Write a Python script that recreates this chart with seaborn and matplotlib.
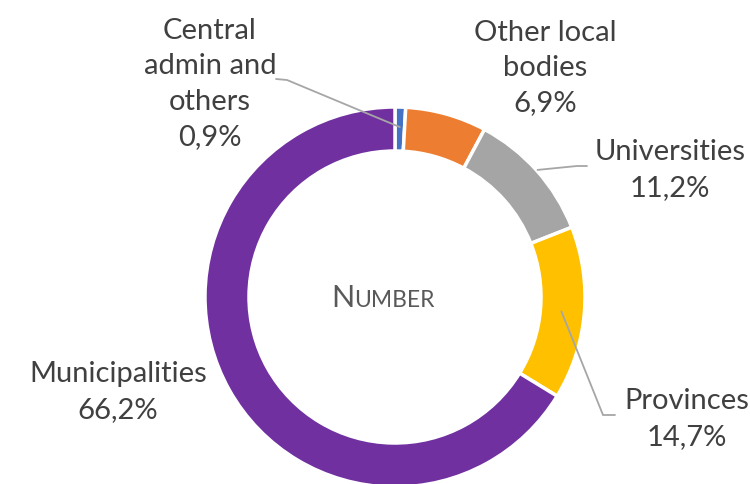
import numpy as np
import matplotlib
matplotlib.use("Agg")
import matplotlib.pyplot as plt
import seaborn as sns

# ---- data ----
categories = ["Central\nadmin and\nothers", "Other local\nbodies", "Universities", "Provinces", "Municipalities"]
shares = [0.9, 6.9, 11.2, 14.7, 66.2]
colors = ["#4472C4", "#ED7D31", "#A5A5A5", "#FFC000", "#7030A0"]
center_title = ("N", "UMBER")

sns.set_theme(style="white")
plt.rcParams['font.family'] = ['Lato', 'DejaVu Sans']

W, H = 750, 485
fig = plt.figure(figsize=(7.5, 4.85), dpi=100)
ax = fig.add_axes([0, 0, 1, 1])

# donut geometry in pixel units
cx, cy, R, ring = 395, H - 298, 190, 44

wedges, _ = ax.pie(shares, colors=colors, startangle=90, counterclock=False,
                   center=(cx, cy), radius=R,
                   wedgeprops=dict(width=ring, edgecolor="white", linewidth=2.5))
ax.set_xlim(0, W)
ax.set_ylim(0, H)
ax.set_aspect("equal")
ax.axis("off")

# label layout: text centre (x, y from top), leader anchor radius, elbow, end
layout = [
    dict(pos=(210, 84), r=170, elbow=(287, 81), end=(276, 80)),
    dict(pos=(545, 68), r=None),
    dict(pos=(670, 170), r=191, elbow=(577, 167), end=(587, 167)),
    dict(pos=(687, 419), r=167, elbow=(603, 416), end=(615, 416)),
    dict(pos=(118, 392), r=None),
]

txt_color = "#404040"
line_color = "#A6A6A6"
for w, name, val, lay in zip(wedges, categories, shares, layout):
    label = f"{name}\n{val:.1f}%".replace(".", ",")
    x, y = lay["pos"]
    ax.text(x, H - y, label, ha="center", va="center", fontsize=21,
            color=txt_color, linespacing=1.45)
    if lay["r"] is not None:
        ang = np.deg2rad((w.theta1 + w.theta2) / 2)
        sx = cx + lay["r"] * np.cos(ang)
        sy = cy + lay["r"] * np.sin(ang)
        ex, ey = lay["elbow"]
        tx, ty = lay["end"]
        ax.plot([sx, ex, tx], [sy, H - ey, H - ty], color=line_color, lw=1.3,
                solid_joinstyle="miter")

# centre title in small caps
ax.text(354, H - 307, center_title[0], ha="right", va="baseline",
        fontsize=22, color="#595959")
ax.text(354, H - 307, center_title[1], ha="left", va="baseline",
        fontsize=16.5, color="#595959")

fig.savefig("out.png", dpi=100, facecolor="white")
